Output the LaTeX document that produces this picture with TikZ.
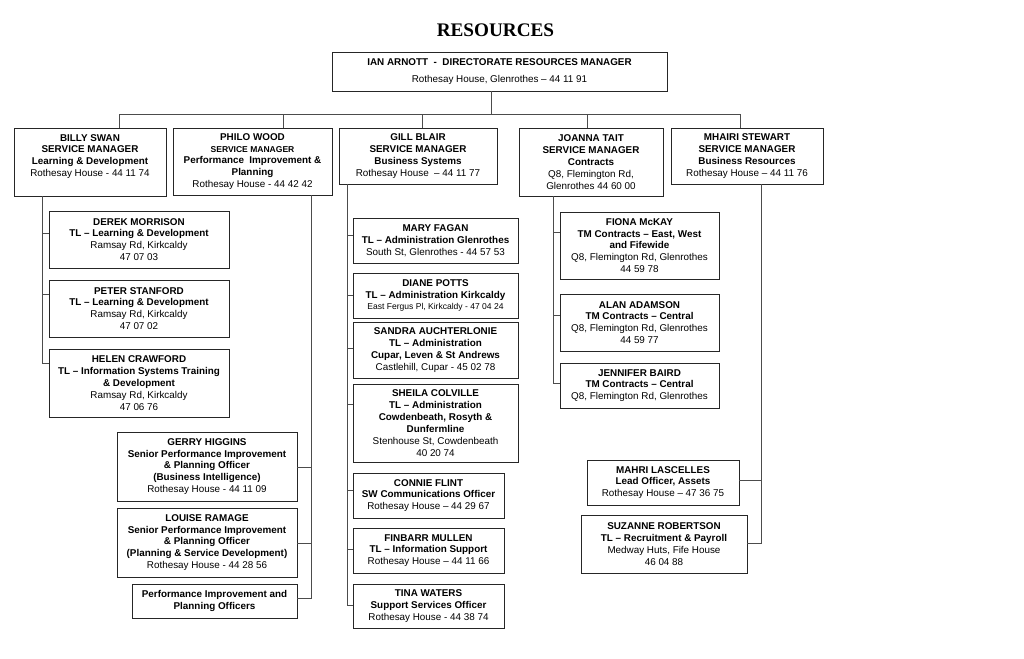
\documentclass[tikz,border=0pt]{standalone}
\usepackage{fontspec}
\setmainfont{Liberation Sans}
\newfontfamily\titlefont{Liberation Serif}
\newcommand\ob[6]{\node[orgbox, minimum width={(#4-#2)*0.75pt}, minimum height={(#5-#3)*0.75pt}] (#1) at ({(#2+#4)/2},{(#3+#5)/2}) {#6};}
\newcommand\smallf{\fontsize{6.4}{8.8}\selectfont}
\begin{document}
\begin{tikzpicture}[x=0.75pt,y=-0.75pt,
  orgbox/.style={draw=black!85, line width=0.7pt, align=center, inner sep=0pt, font=\fontsize{7.4}{8.9}\selectfont},
  boxtext/.style={align=center, inner sep=0pt, font=\fontsize{7.4}{8.9}\selectfont},
  conn/.style={draw=black!70, line width=0.75pt},
  titletext/.style={font=\titlefont\bfseries\fontsize{14.4}{16}\selectfont}]
\fill[white] (0,0) rectangle (1024,658);
\useasboundingbox (0,0) rectangle (1024,658);

\node[titletext] (title) at (495.5,30) {RESOURCES};

\ob{ian}{332}{52}{667}{91}{\textbf{IAN ARNOTT\ \ -\ \ DIRECTORATE RESOURCES MANAGER}\\[4pt]Rothesay House, Glenrothes – 44 11 91}

% service managers
\ob{billy}{14}{128}{166}{196}{}
\node[boxtext] (billytext) at (90,156.5) {\textbf{BILLY SWAN}\\\textbf{SERVICE MANAGER}\\\textbf{Learning \& Development}\\Rothesay House - 44 11 74};
\ob{philo}{173}{128}{332}{195}{\textbf{PHILO WOOD}\\{\smallf\bfseries SERVICE MANAGER}\\\textbf{Performance\ \ Improvement \&}\\\textbf{Planning}\\Rothesay House - 44 42 42}
\ob{gill}{339}{128}{497}{184}{\textbf{GILL BLAIR}\\\textbf{SERVICE MANAGER}\\\textbf{Business Systems}\\Rothesay House\ \ – 44 11 77}
\ob{joanna}{519}{128}{663}{196}{\textbf{JOANNA TAIT}\\\textbf{SERVICE MANAGER}\\\textbf{Contracts}\\Q8, Flemington Rd,\\Glenrothes 44 60 00}
\ob{mhairi}{671}{128}{823}{184}{\textbf{MHAIRI STEWART}\\\textbf{SERVICE MANAGER}\\\textbf{Business Resources}\\Rothesay House – 44 11 76}

% Billy's team
\ob{derek}{49}{211}{229}{268}{\textbf{DEREK MORRISON}\\\textbf{TL – Learning \& Development}\\Ramsay Rd, Kirkcaldy\\47 07 03}
\ob{peter}{49}{280}{229}{337}{\textbf{PETER STANFORD}\\\textbf{TL – Learning \& Development}\\Ramsay Rd, Kirkcaldy\\47 07 02}
\ob{helen}{49}{349}{229}{417}{\textbf{HELEN CRAWFORD}\\\textbf{TL – Information Systems Training}\\\textbf{\& Development}\\Ramsay Rd, Kirkcaldy\\47 06 76}

% Philo's team
\ob{gerry}{117}{432}{297}{501}{\textbf{GERRY HIGGINS}\\\textbf{Senior Performance Improvement}\\\textbf{\& Planning Officer}\\\textbf{(Business Intelligence)}\\Rothesay House - 44 11 09}
\ob{louise}{117}{508}{297}{577}{\textbf{LOUISE RAMAGE}\\\textbf{Senior Performance Improvement}\\\textbf{\& Planning Officer}\\\textbf{(Planning \& Service Development)}\\Rothesay House - 44 28 56}
\ob{pipo}{132}{584}{297}{618}{\textbf{Performance Improvement and}\\\textbf{Planning Officers}}

% Gill's team
\ob{mary}{353}{218}{518}{263}{\textbf{MARY FAGAN}\\\textbf{TL – Administration Glenrothes}\\South St, Glenrothes - 44 57 53}
\ob{diane}{353}{273}{518}{318}{\textbf{DIANE POTTS}\\\textbf{TL – Administration Kirkcaldy}\\{\smallf East Fergus Pl, Kirkcaldy - 47 04 24}}
\ob{sandra}{353}{322}{518}{378}{\textbf{SANDRA AUCHTERLONIE}\\\textbf{TL – Administration}\\\textbf{Cupar, Leven \& St Andrews}\\Castlehill, Cupar - 45 02 78}
\ob{sheila}{353}{384}{518}{462}{\textbf{SHEILA COLVILLE}\\\textbf{TL – Administration}\\\textbf{Cowdenbeath, Rosyth \&}\\\textbf{Dunfermline}\\Stenhouse St, Cowdenbeath\\40 20 74}
\ob{connie}{353}{473}{504}{518}{\textbf{CONNIE FLINT}\\\textbf{SW Communications Officer}\\Rothesay House – 44 29 67}
\ob{finbarr}{353}{528}{504}{573}{\textbf{FINBARR MULLEN}\\\textbf{TL – Information Support}\\Rothesay House – 44 11 66}
\ob{tina}{353}{584}{504}{628}{\textbf{TINA WATERS}\\\textbf{Support Services Officer}\\Rothesay House - 44 38 74}

% Joanna's team
\ob{fiona}{560}{212}{719}{279}{\textbf{FIONA McKAY}\\\textbf{TM Contracts – East, West}\\\textbf{and Fifewide}\\Q8, Flemington Rd, Glenrothes\\44 59 78}
\ob{alan}{560}{294}{719}{351}{\textbf{ALAN ADAMSON}\\\textbf{TM Contracts – Central}\\Q8, Flemington Rd, Glenrothes\\44 59 77}
\ob{jennifer}{560}{363}{719}{408}{\textbf{JENNIFER BAIRD}\\\textbf{TM Contracts – Central}\\Q8, Flemington Rd, Glenrothes}

% Mhairi's team
\ob{mahri}{587}{460}{739}{505}{\textbf{MAHRI LASCELLES}\\\textbf{Lead Officer, Assets}\\Rothesay House – 47 36 75}
\ob{suzanne}{581}{515}{747}{573}{\textbf{SUZANNE ROBERTSON}\\\textbf{TL – Recruitment \& Payroll}\\Medway Huts, Fife House\\46 04 88}

% top bus
\coordinate (jI) at (491,114);
\coordinate (jB) at (119,114);
\coordinate (jP) at (283,114);
\coordinate (jG) at (422,114);
\coordinate (jJ) at (587,114);
\coordinate (jM) at (740,114);
\draw[conn] (ian.south -| jI) -- (jI);
\draw[conn] (jB) -- (jM);
\foreach \n/\j in {billy/jB, philo/jP, gill/jG, joanna/jJ, mhairi/jM}
  \draw[conn] (\j) -- (\n.north -| \j);

% Billy spine x=42
\coordinate (tDerek) at (42,233);
\coordinate (tPeter) at (42,294);
\coordinate (tHelen) at (42,363);
\draw[conn] (billy.south -| tHelen) -- (tHelen) -- (helen.west |- tHelen);
\draw[conn] (tDerek) -- (derek.west |- tDerek);
\draw[conn] (tPeter) -- (peter.west |- tPeter);

% Philo spine x=311
\coordinate (tGerry) at (311,467);
\coordinate (tLouise) at (311,543);
\coordinate (tPipo) at (311,598);
\draw[conn] (philo.south -| tPipo) -- (tPipo) -- (pipo.east |- tPipo);
\draw[conn] (tGerry) -- (gerry.east |- tGerry);
\draw[conn] (tLouise) -- (louise.east |- tLouise);

% Gill spine x=347
\coordinate (tMary) at (347,235);
\coordinate (tDiane) at (347,295);
\coordinate (tSandra) at (347,348);
\coordinate (tSheila) at (347,404);
\coordinate (tConnie) at (347,490);
\coordinate (tFinbarr) at (347,549);
\coordinate (tTina) at (347,605);
\draw[conn] (gill.south -| tTina) -- (tTina) -- (tina.west |- tTina);
\foreach \n/\t in {mary/tMary, diane/tDiane, sandra/tSandra, sheila/tSheila, connie/tConnie, finbarr/tFinbarr}
  \draw[conn] (\t) -- (\n.west |- \t);

% Joanna spine x=553
\coordinate (tFiona) at (553,232);
\coordinate (tAlan) at (553,315);
\coordinate (tJennifer) at (553,383);
\draw[conn] (joanna.south -| tJennifer) -- (tJennifer) -- (jennifer.west |- tJennifer);
\draw[conn] (tFiona) -- (fiona.west |- tFiona);
\draw[conn] (tAlan) -- (alan.west |- tAlan);

% Mhairi spine x=761
\coordinate (tMahri) at (761,480);
\coordinate (tSuzanne) at (761,543);
\draw[conn] (mhairi.south -| tSuzanne) -- (tSuzanne) -- (suzanne.east |- tSuzanne);
\draw[conn] (tMahri) -- (mahri.east |- tMahri);
\end{tikzpicture}
\end{document}
